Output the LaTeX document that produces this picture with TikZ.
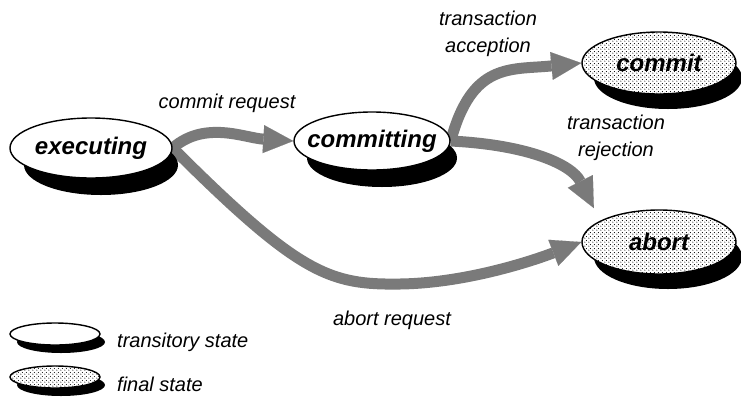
\documentclass[tikz,border=0pt]{standalone}
\usepackage{fontspec}
\setmainfont{Liberation Sans}
\usetikzlibrary{shapes.geometric,arrows.meta,patterns.meta}
\pgfdeclarelayer{flows}
\pgfdeclarelayer{shadows}
\pgfsetlayers{flows,shadows,main}

% fine diagonal dot screen for final states
\tikzdeclarepattern{
  name=finedots,
  type=uncolored,
  bounding box={(0pt,0pt) and (4pt,4pt)},
  tile size={(4pt,4pt)},
  code={
    \pgfpathcircle{\pgfpoint{1pt}{1pt}}{0.65pt}
    \pgfpathcircle{\pgfpoint{3pt}{3pt}}{0.65pt}
    \pgfusepath{fill}
  }
}

% black disc under a state: #1 node, #2 shift, #3 x radius, #4 y radius
\newcommand\discshadow[4]{%
  \fill[black] ([shift={#2}]#1.center) ellipse [x radius=#3pt, y radius=#4pt];}

\begin{document}
\begin{tikzpicture}[x=1pt,y=-1pt,
  state/.style={ellipse, draw=black, line width=1.4pt, inner sep=0pt,
    font=\fontsize{24}{28}\selectfont\bfseries\itshape},
  transitory/.style={state, fill=white},
  final/.style={state, preaction={fill=white}, pattern=finedots},
  lbl/.style={inner sep=0pt, align=center, font=\fontsize{20}{27}\selectfont\itshape},
  flow/.style={draw=black!52, line width=11pt,
    -{Triangle[width=28pt,length=30pt,line width=0.1pt]}}
]
\useasboundingbox (0,0) rectangle (741,402);

% states
\node[transitory, minimum width=162pt, minimum height=60pt]
  (exec) at (91,148) {\makebox[0pt]{executing}};
\node[transitory, minimum width=156pt, minimum height=58pt]
  (comm) at (372,141) {\makebox[0pt]{committing}};
\node[final, minimum width=154pt, minimum height=62pt]
  (commit) at (659,63) {\makebox[0pt]{commit}};
\node[final, minimum width=154pt, minimum height=64pt]
  (abort) at (659,242) {\makebox[0pt]{abort}};

% legend keys
\node[transitory, minimum width=90pt, minimum height=22pt] (kt) at (55,334) {};
\node[final, minimum width=90pt, minimum height=22pt] (kf) at (55,377) {};

% extruded look of every state
\begin{pgfonlayer}{shadows}
\discshadow{exec}{(10,17)}{77}{30}
\discshadow{comm}{(10,17)}{75}{29}
\discshadow{commit}{(9,15)}{74}{31}
\discshadow{abort}{(9,15)}{74}{32}
\discshadow{kt}{(6,8)}{44}{11}
\discshadow{kf}{(6,8)}{44}{11}
\end{pgfonlayer}

% transitions
\begin{pgfonlayer}{flows}
\draw[flow] (exec.east) .. controls (205,120) and (245,138) .. (comm.west);
\draw[flow] (exec.east) .. controls (300,275) and (330,285) .. (400,284)
  .. controls (470,283) and (540,258) .. (abort.west);
\draw[flow] (comm.east) .. controls (472,62) and (510,70) .. (commit.west);
\draw[flow, shorten >=14pt] (comm.east) .. controls (530,145) and (572,165) .. (abort.160);
\end{pgfonlayer}

% transition labels
\node[lbl] (lcr) at (227,103) {commit request};
\node[lbl] (lacc) at (488,34) {transaction\\acception};
\node[lbl] (lrej) at (616,138) {transaction\\rejection};
\node[lbl] (lar) at (392,320) {abort request};

% legend texts
\node[lbl, anchor=base west] (lt) at (117,347) {transitory state};
\node[lbl, anchor=base west] (lf) at (117,391) {final state};
\end{tikzpicture}
\end{document}
